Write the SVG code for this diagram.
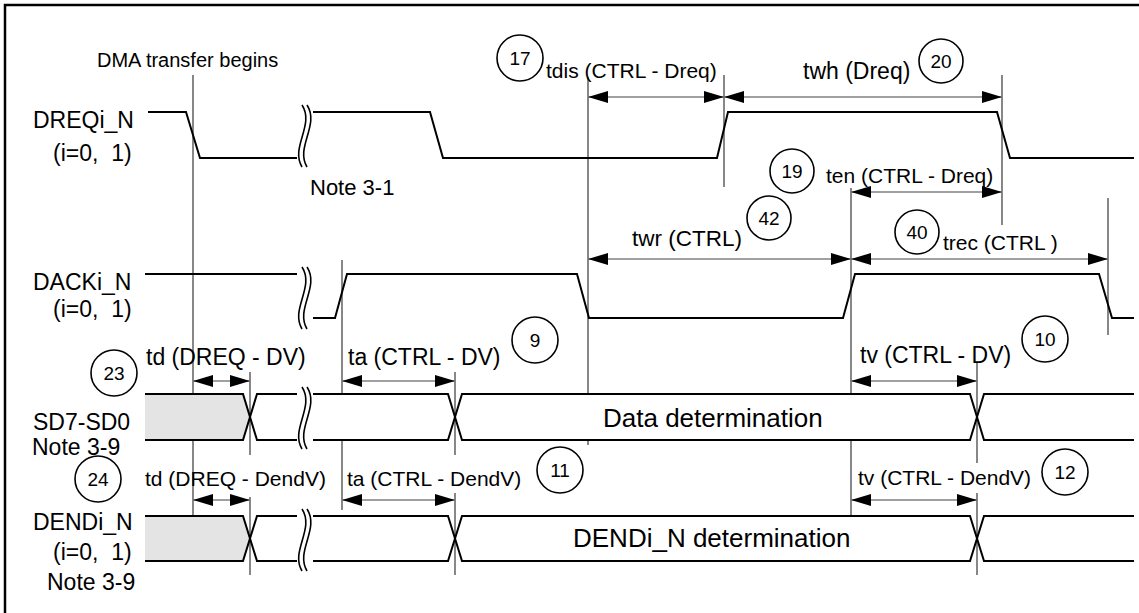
<svg xmlns="http://www.w3.org/2000/svg" xmlns:xlink="http://www.w3.org/1999/xlink" width="1139" height="613" viewBox="0 0 1139 613">
<style>
text{font-family:"Liberation Sans",Arial,sans-serif;fill:#000}
.wave{fill:none;stroke:#000;stroke-width:2;stroke-linejoin:miter}
.vl{stroke:#555;stroke-width:1.4;fill:none}
.dim{stroke:#808080;stroke-width:1.6;fill:none;marker-start:url(#ah);marker-end:url(#ah)}
.brk{fill:none;stroke:#000;stroke-width:1.6}
.num{fill:none;stroke:#000;stroke-width:1.6}
.nt{font-size:19px;text-anchor:middle}
.lbl{font-size:23px}
</style>
<defs>
<marker id="ah" markerUnits="userSpaceOnUse" markerWidth="21" markerHeight="13" refX="20" refY="6" orient="auto-start-reverse">
<path d="M0,0 L20,6 L0,12 Z" fill="#000"/>
</marker>
<g id="brk">
<path class="brk" d="M302,0 C315,20 290,42 302,62"/>
<path class="brk" d="M307,0 C320,20 295,42 307,62"/>
</g>
</defs>
<rect x="5" y="5" width="1150" height="630" fill="#fff" stroke="#000" stroke-width="2.5"/>

<g id="verticals">
<line class="vl" x1="193" y1="75" x2="193" y2="517"/>
<line class="vl" x1="342" y1="260" x2="342" y2="394"/>
<line class="vl" x1="342" y1="440" x2="342" y2="510"/>
<line class="vl" x1="455" y1="372" x2="455" y2="455"/>
<line class="vl" x1="455" y1="493" x2="455" y2="575"/>
<line class="vl" x1="588" y1="77" x2="588" y2="394"/>
<line class="vl" x1="588" y1="440" x2="588" y2="445"/>
<line class="vl" x1="724" y1="75" x2="724" y2="187"/>
<line class="vl" x1="1002" y1="75" x2="1002" y2="225"/>
<line class="vl" x1="851" y1="188" x2="851" y2="394"/>
<line class="vl" x1="851" y1="440" x2="851" y2="515"/>
<line class="vl" x1="1108" y1="198" x2="1108" y2="335"/>
<line class="vl" x1="977" y1="363" x2="977" y2="463"/>
<line class="vl" x1="977" y1="493" x2="977" y2="575"/>
<line class="vl" x1="250" y1="372" x2="250" y2="455"/>
<line class="vl" x1="250" y1="497" x2="250" y2="575"/>
</g>

<g id="dreq">
<text class="lbl" x="33" y="128">DREQi_N</text>
<text class="lbl" x="53" y="161" xml:space="preserve">(i=0,  1)</text>
<path class="wave" d="M148,112 H186 L200,158 H297 M313,112 H430 L443,158 H717 L728,112 H997 L1010,158 H1134"/>
<use xlink:href="#brk" y="105"/>
<text x="97" y="67" style="font-size:20px">DMA transfer begins</text>
<text x="310" y="195" style="font-size:22px">Note 3-1</text>
</g>

<g id="dack">
<text class="lbl" x="33" y="290">DACKi_N</text>
<text class="lbl" x="53" y="317" xml:space="preserve">(i=0,  1)</text>
<path class="wave" d="M145,274 H297 M313,318 H335 L347,274 H577 L589,318 H843 L855,274 H1099 L1112,318 H1134"/>
<use xlink:href="#brk" y="267"/>
</g>

<g id="sd">
<text class="lbl" x="33" y="430">SD7-SD0</text>
<text class="lbl" x="32" y="455">Note 3-9</text>
<path d="M145,394 H243 L250,417 L243,440 H145 Z" fill="#e4e4e4"/>
<path class="wave" d="M145,394 H243 L257,440 H297 M145,440 H243 L257,394 H297 M313,394 H448 L462,440 H970 L984,394 H1134 M313,440 H448 L462,394 H970 L984,440 H1134"/>
<use xlink:href="#brk" y="387"/>
<text x="603" y="427" style="font-size:26px">Data determination</text>
</g>

<g id="dend">
<text class="lbl" x="33" y="530">DENDi_N</text>
<text class="lbl" x="53" y="560" xml:space="preserve">(i=0,  1)</text>
<text class="lbl" x="47" y="590">Note 3-9</text>
<path d="M145,516 H243 L250,538.5 L243,561 H145 Z" fill="#e4e4e4"/>
<path class="wave" d="M145,516 H243 L257,561 H297 M145,561 H243 L257,516 H297 M313,516 H448 L462,561 H970 L984,516 H1134 M313,561 H448 L462,516 H970 L984,561 H1134"/>
<use xlink:href="#brk" y="509"/>
<text x="573" y="547" style="font-size:26px">DENDi_N determination</text>
</g>

<g id="connectors">
<line class="dim" x1="588" y1="97" x2="724" y2="97"/>
<line class="dim" x1="724" y1="97" x2="1002" y2="97"/>
<line class="dim" x1="851" y1="192" x2="1002" y2="192"/>
<line class="dim" x1="588" y1="259" x2="851" y2="259"/>
<line class="dim" x1="851" y1="259" x2="1108" y2="259"/>
<line class="dim" x1="193" y1="381" x2="250" y2="381"/>
<line class="dim" x1="342" y1="381" x2="455" y2="381"/>
<line class="dim" x1="851" y1="381" x2="977" y2="381"/>
<line class="dim" x1="193" y1="500" x2="250" y2="500"/>
<line class="dim" x1="342" y1="500" x2="455" y2="500"/>
<line class="dim" x1="851" y1="500" x2="977" y2="500"/>
</g>

<g id="timing-labels">
<text x="546" y="78" style="font-size:21px">tdis (CTRL - Dreq)</text>
<text x="803" y="79" style="font-size:23px">twh (Dreq)</text>
<text x="826" y="183" style="font-size:21px">ten (CTRL - Dreq)</text>
<text x="632" y="246" style="font-size:22.5px">twr (CTRL)</text>
<text x="943" y="250" style="font-size:21px">trec (CTRL )</text>
<text x="146" y="365" style="font-size:23px">td (DREQ - DV)</text>
<text x="348" y="365" style="font-size:23px">ta (CTRL - DV)</text>
<text x="860" y="363" style="font-size:23px">tv (CTRL - DV)</text>
<text x="145" y="486" style="font-size:21px">td (DREQ - DendV)</text>
<text x="347" y="486" style="font-size:21px">ta (CTRL - DendV)</text>
<text x="858" y="485" style="font-size:21px">tv (CTRL - DendV)</text>
</g>

<g id="num17"><circle class="num" cx="520" cy="58" r="23"/><text class="nt" x="520" y="65">17</text></g>
<g id="num20"><circle class="num" cx="941" cy="61" r="22"/><text class="nt" x="941" y="68">20</text></g>
<g id="num19"><circle class="num" cx="792" cy="171" r="22"/><text class="nt" x="792" y="178">19</text></g>
<g id="num42"><circle class="num" cx="769" cy="218" r="22"/><text class="nt" x="769" y="225">42</text></g>
<g id="num40"><circle class="num" cx="917" cy="232" r="22"/><text class="nt" x="917" y="239">40</text></g>
<g id="num9"><circle class="num" cx="535" cy="340" r="23"/><text class="nt" x="535" y="347">9</text></g>
<g id="num10"><circle class="num" cx="1045" cy="339" r="23"/><text class="nt" x="1045" y="346">10</text></g>
<g id="num23"><circle class="num" cx="114" cy="373" r="23"/><text class="nt" x="114" y="380">23</text></g>
<g id="num24"><circle class="num" cx="98" cy="479" r="23"/><text class="nt" x="98" y="486">24</text></g>
<g id="num11"><circle class="num" cx="560" cy="470" r="23"/><text class="nt" x="560" y="477">11</text></g>
<g id="num12"><circle class="num" cx="1065" cy="472" r="23"/><text class="nt" x="1065" y="479">12</text></g>
</svg>
